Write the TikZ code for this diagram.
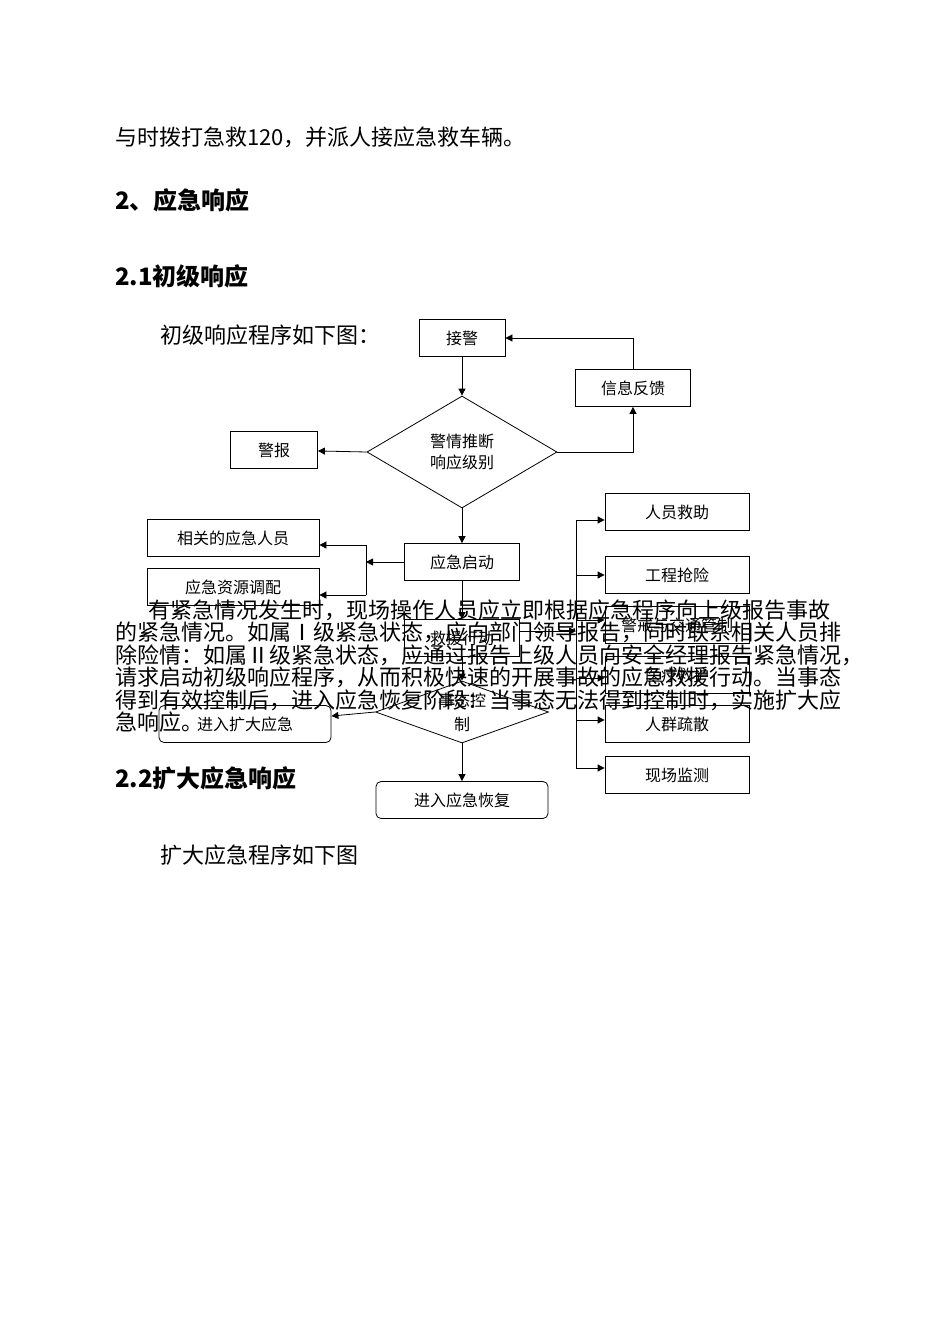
\documentclass[tikz,border=0pt]{standalone}
\usepackage{fontspec}
\setmainfont{Liberation Serif}
\newfontfamily\cjk{Noto Sans CJK SC}
\usetikzlibrary{shapes.geometric,arrows.meta}
\begin{document}
\begin{tikzpicture}[x=1pt,y=-1pt,
  bx/.style={draw,thick,minimum width=#1,minimum height=37pt,inner sep=0pt,font=\cjk\fontsize{16}{18}\selectfont},
  bx/.default=144pt,
  rbx/.style={bx=172pt,rounded corners=5pt},
  dia/.style={draw,thick,diamond,aspect=#1,inner sep=0pt,align=center,font=\cjk\fontsize{16}{21}\selectfont},
  ar/.style={-{Triangle[length=7pt,width=7pt]},thick},
  ln/.style={thick},
  body/.style={anchor=west,inner sep=0pt,font=\cjk\fontsize{22}{22}\selectfont},
  head/.style={anchor=west,inner sep=0pt,font=\cjk\bfseries\fontsize{24}{26}\selectfont}]
\useasboundingbox (0,0) rectangle (950,1344);
\node[body] (t0) at (115,137) {与时拨打急救120，并派人接应急救车辆。};
\node[head] (h1) at (115,200) {2、应急响应};
\node[head] (h2) at (115,276) {2.1初级响应};
\node[body] (t1) at (160,335) {初级响应程序如下图：};
% diagram
\node[bx=86pt] (jj) at (462,338) {接警};
\node[bx=115pt] (xx) at (633,388) {信息反馈};
\node[dia=1.72,minimum width=190pt,minimum height=112pt] (pd) at (462,452) {警情推断\\响应级别};
\node[bx=87pt] (jb) at (274,450) {警报};
\node[bx] (ry) at (677,512) {人员救助};
\node[bx=172pt] (xg) at (233,538) {相关的应急人员};
\node[bx=115pt] (qd) at (462,562) {应急启动};
\node[bx=172pt] (zy) at (233,587) {应急资源调配};
\node[bx] (gc) at (677,575) {工程抢险};
\node[bx] (jt) at (677,625) {警戒与交通管制};
\node[bx=115pt] (jy) at (462,638) {救援行动};
\node[bx] (yl) at (677,675) {医疗救护};
\node[dia=2.8,minimum width=173pt,minimum height=62pt,font=\cjk\fontsize{16}{24}\selectfont] (sk) at (462,712) {事态控\\制};
\node[rbx] (kd) at (245,724) {进入扩大应急};
\node[bx] (sl) at (677,724) {人群疏散};
\node[bx] (jc) at (677,775) {现场监测};
\node[rbx] (hf) at (462,800) {进入应急恢复};
\coordinate (ls) at (366,562);
\coordinate (rs) at (576,631);
\draw[ar] (jj) -- (pd);
\draw[ar] (pd.west) -- (jb);
\draw[ar] (pd.east) -| (xx.south);
\draw[ar] (xx.north) |- (jj.east);
\draw[ar] (pd) -- (qd);
\draw[ar] (qd.west) -- (ls);
\draw[ln] (366,545) -- (366,595);
\draw[ar] (366,545) -- (xg.east |- 0,545);
\draw[ar] (366,595) -- (zy.east |- 0,595);
\draw[ar] (qd) -- (jy);
\draw[ar] (jy.east |- rs) -- (rs);
\draw[ln] (576,520) -- (576,768);
\draw[ar] (576,520) -- (ry.west |- 0,520);
\draw[ar] (576,575) -- (gc.west |- 0,575);
\draw[ar] (576,620) -- (jt.west |- 0,620);
\draw[ar] (576,678) -- (yl.west |- 0,678);
\draw[ar] (576,720) -- (sl.west |- 0,720);
\draw[ar] (576,768) -- (jc.west |- 0,768);
\draw[ar] (jy) -- (sk);
\draw[ar] (sk.west) -- (kd);
\draw[ar] (sk) -- (hf);
% overlapping paragraph
\node[body] (p1) at (148,610) {有紧急情况发生时，现场操作人员应立即根据应急程序向上级报告事故};
\node[body] (p2) at (115,632) {的紧急情况。如属Ⅰ级紧急状态，应向部门领导报告，同时联系相关人员排};
\node[body] (p3) at (115,655) {除险情：如属Ⅱ级紧急状态，应通过报告上级人员向安全经理报告紧急情况，};
\node[body] (p4) at (115,677) {请求启动初级响应程序，从而积极快速的开展事故的应急救援行动。当事态};
\node[body] (p5) at (115,700) {得到有效控制后，进入应急恢复阶段：当事态无法得到控制时，实施扩大应};
\node[body] (p6) at (115,722) {急响应。};
\node[head] (h3) at (115,778) {2.2扩大应急响应};
\node[body] (t2) at (160,855) {扩大应急程序如下图};
\end{tikzpicture}
\end{document}
